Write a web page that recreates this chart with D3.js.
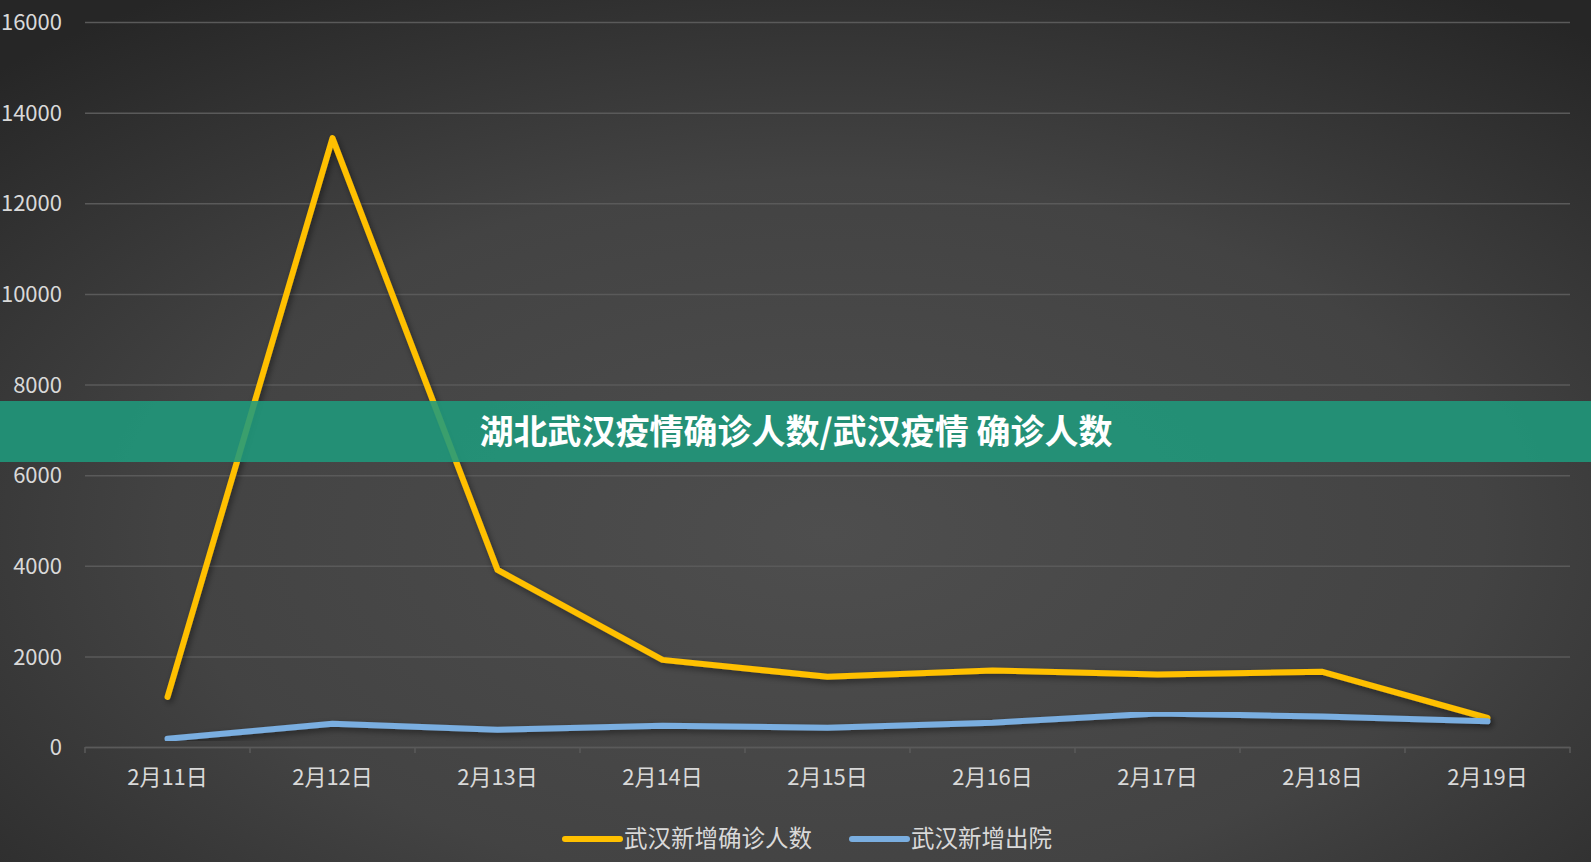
<!DOCTYPE html>
<html lang="zh">
<head>
<meta charset="UTF-8">
<title>湖北武汉疫情确诊人数</title>
<script src="https://d3js.org/d3.v7.min.js"></script>
<style>
    html, body { margin: 0; padding: 0; background: #333; }
    svg { display: block; }
    .axis text {
        fill: #d9d9d9;
        font-family: "Noto Sans CJK SC", "Open Sans", sans-serif;
        font-size: 22px;
    }
    .grid line { stroke: #5a5a5a; stroke-width: 1.5; }
    .legend text {
        fill: #d9d9d9;
        font-family: "Noto Sans CJK SC", sans-serif;
        font-size: 23.5px;
    }
</style>
</head>
<body>
<svg width="1591" height="862"></svg>
<script>
    // data
    const dates = ["2月11日", "2月12日", "2月13日", "2月14日", "2月15日", "2月16日", "2月17日", "2月18日", "2月19日"];
    const confirmed = [1104, 13436, 3910, 1923, 1548, 1690, 1600, 1660, 640];
    const discharged = [180, 514, 380, 468, 424, 536, 737, 671, 567];
    const yTicks = [0, 2000, 4000, 6000, 8000, 10000, 12000, 14000, 16000];
    const seriesNames = ["武汉新增确诊人数", "武汉新增出院"];
    const seriesColors = ["#ffc000", "#7aaee0"];
    const title = "湖北武汉疫情确诊人数/武汉疫情 确诊人数";

    const W = 1591, H = 862;
    const margin = { top: 22, right: 21, bottom: 115, left: 85 };
    const width = W - margin.left - margin.right;
    const height = H - margin.top - margin.bottom;

    const svg = d3.select("svg");
    const defs = svg.append("defs");

    // dark radial background
    const bg = defs.append("radialGradient").attr("id", "bg")
        .attr("cx", "52%").attr("cy", "62%").attr("r", "75%");
    bg.append("stop").attr("offset", "0%").attr("stop-color", "#4e4e4e");
    bg.append("stop").attr("offset", "55%").attr("stop-color", "#434343");
    bg.append("stop").attr("offset", "100%").attr("stop-color", "#262626");
    svg.append("rect").attr("width", W).attr("height", H).attr("fill", "url(#bg)");

    const shadow = defs.append("filter").attr("id", "shadow")
        .attr("x", "-5%").attr("y", "-5%").attr("width", "110%").attr("height", "110%");
    shadow.append("feDropShadow").attr("dx", 2).attr("dy", 3).attr("stdDeviation", 3)
        .attr("flood-color", "#000").attr("flood-opacity", 0.45);

    const g = svg.append("g").attr("transform", `translate(${margin.left},${margin.top})`);

    const x = d3.scaleBand().domain(dates).range([0, width]).padding(0);
    const y = d3.scaleLinear().domain([0, 16000]).range([height, 0]);

    // y axis with gridlines
    const yAxis = g.append("g").attr("class", "axis grid")
        .call(d3.axisLeft(y).tickValues(yTicks).tickFormat(d3.format("d"))
            .tickSize(-width).tickPadding(23));
    yAxis.select(".domain").remove();
    yAxis.selectAll(".tick text").attr("dy", "0.35em");

    // x axis: baseline, boundary ticks, labels
    const xAxis = g.append("g").attr("class", "axis")
        .attr("transform", `translate(0,${height})`)
        .call(d3.axisBottom(x).tickSize(0).tickPadding(22));
    xAxis.select(".domain").attr("stroke", "#5a5a5a").attr("stroke-width", 1.5);
    const bounds = dates.map(d => x(d)).concat([width]);
    xAxis.selectAll(".bound").data(bounds).enter().append("line")
        .attr("class", "bound")
        .attr("x1", d => d).attr("x2", d => d)
        .attr("y1", 0).attr("y2", 6)
        .attr("stroke", "#5a5a5a").attr("stroke-width", 1.5);

    // lines
    const line = d3.line()
        .x((d, i) => x(dates[i]) + x.bandwidth() / 2)
        .y(d => y(d));

    [confirmed, discharged].forEach((s, i) => {
        g.append("path")
            .datum(s)
            .attr("fill", "none")
            .attr("stroke", seriesColors[i])
            .attr("stroke-width", 6)
            .attr("stroke-linecap", "round")
            .attr("stroke-linejoin", "round")
            .attr("filter", "url(#shadow)")
            .attr("d", line);
    });

    // legend
    const legend = svg.append("g").attr("class", "legend")
        .attr("transform", "translate(0,839)");
    const legendX = [565, 852];
    seriesNames.forEach((name, i) => {
        const lg = legend.append("g").attr("transform", `translate(${legendX[i]},0)`);
        lg.append("line").attr("x1", 0).attr("x2", 55).attr("y1", 0).attr("y2", 0)
            .attr("stroke", seriesColors[i]).attr("stroke-width", 6)
            .attr("stroke-linecap", "round");
        lg.append("text").attr("x", 59).attr("dy", "0.35em").text(name);
    });

    // title band over the chart
    svg.append("rect")
        .attr("x", 0).attr("y", 401).attr("width", W).attr("height", 61)
        .attr("fill", "#1f9a7c").attr("opacity", 0.88);
    svg.append("text")
        .attr("x", 796).attr("y", 432)
        .attr("dy", "0.35em")
        .attr("text-anchor", "middle")
        .attr("fill", "#fff")
        .attr("font-family", "Noto Sans CJK SC, sans-serif")
        .attr("font-weight", "bold")
        .attr("font-size", 34)
        .text(title);
</script>
</body>
</html>
